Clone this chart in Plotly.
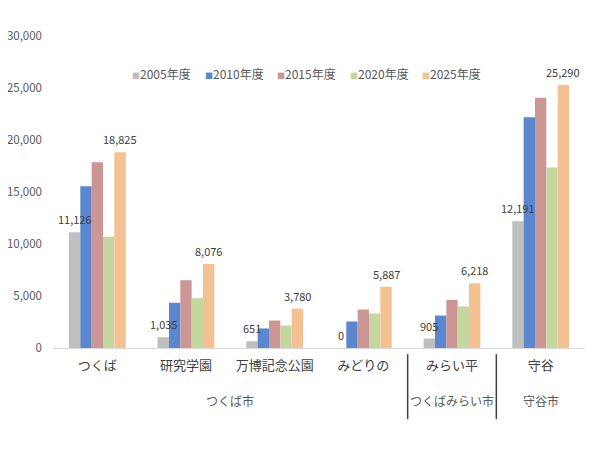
import plotly.graph_objects as go

# カテゴリ（地区）と市のグループ
areas = ["つくば", "研究学園", "万博記念公園", "みどりの", "みらい平", "守谷"]
cities = ["つくば市", "つくばみらい市", "守谷市"]
city_pos = [1.5, 4, 5]      # グループ名の中心（カテゴリ番号）
dividers = [3.5, 4.5]       # 市の区切り線

years = ["2005年度", "2010年度", "2015年度", "2020年度", "2025年度"]
v2005 = [11126, 1035, 651, 0, 905, 12191]
v2010 = [15550, 4350, 1880, 2550, 3120, 22190]
v2015 = [17860, 6520, 2640, 3700, 4630, 24060]
v2020 = [10700, 4790, 2160, 3320, 4000, 17360]
v2025 = [18825, 8076, 3780, 5887, 6218, 25290]

colors = ["#BFBFBF", "#5B87CF", "#CC9695", "#C4D79E", "#F4C192"]
font = "Noto Sans CJK JP"

W, H = 600, 450
ml, mr, mt, mb = 45, 23, 28, 110
bargap = 0.36
series = [v2005, v2010, v2015, v2020, v2025]
plot_w, plot_h = W - ml - mr, H - mt - mb

fig = go.Figure()
for name, vals, col in zip(years, series, colors):
    fig.add_trace(go.Bar(
        x=areas, y=vals, name=name, showlegend=False,
        marker=dict(color=col, line=dict(width=0)),
    ))

# データラベル（2005年度と2025年度）: バーの上に前面表示
cat_px = plot_w / len(areas)
bar_px = cat_px * (1 - bargap) / len(years)
for idx in (0, 4):
    shift = (idx - (len(years) - 1) / 2) * bar_px
    for a, v in zip(areas, series[idx]):
        fig.add_annotation(x=a, y=v, xref="x", yref="y", text=f"{v:,}", showarrow=False,
                           xshift=shift, yanchor="bottom", yshift=3,
                           font=dict(size=11, color="#404040", family=font))

# 凡例（小さな四角＋年度）
leg_x0, leg_step, leg_y = (122 - ml) / plot_w, 72.5 / plot_w, (H - mb - 65) / plot_h
for i, (name, col) in enumerate(zip(years, colors)):
    fig.add_annotation(x=leg_x0 + i * leg_step, y=leg_y, xref="paper", yref="paper",
                       text=f'<span style="font-size:8px;color:{col}">■</span>{name}',
                       showarrow=False, xanchor="left", yanchor="middle",
                       font=dict(size=12, color="#595959", family=font))

for c, p in zip(cities, city_pos):
    fig.add_annotation(x=p, xref="x", y=-0.167, yref="paper", yanchor="middle", text=c,
                       showarrow=False, font=dict(size=12, color="#595959", family=font))
for d in dividers:
    fig.add_shape(type="line", xref="x", yref="paper", x0=d, x1=d, y0=-0.02, y1=-0.228,
                  line=dict(color="#404040", width=1.5))

fig.update_layout(
    width=W, height=H,
    barmode="group", bargap=bargap, bargroupgap=0,
    plot_bgcolor="white", paper_bgcolor="white",
    margin=dict(l=ml, r=mr, t=mt, b=mb, autoexpand=False),
    font=dict(family=font, color="#595959"),
    showlegend=False,
)
fig.update_yaxes(range=[0, 30000], dtick=5000, tickformat=",", showgrid=False,
                 zeroline=False, showline=False, tickfont=dict(size=11.5, color="#595959"),
                 ticks="", ticklabelstandoff=10, automargin=False)
fig.update_xaxes(showline=True, linecolor="#D9D9D9", linewidth=1, ticks="",
                 tickfont=dict(size=13, color="#404040"), ticklabelstandoff=5,
                 automargin=False, range=[-0.5, 5.5])

fig.write_html("out.html")
